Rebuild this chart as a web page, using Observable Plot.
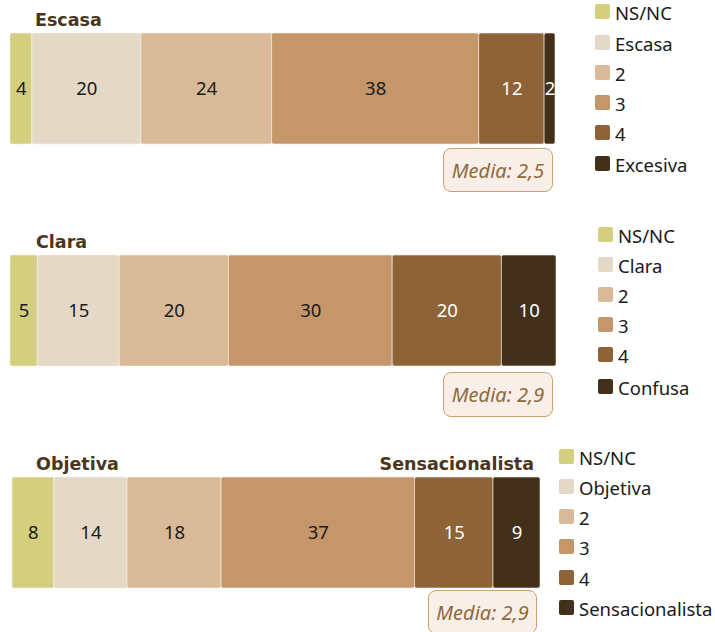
<!DOCTYPE html>
<html>
<head>
<meta charset="utf-8">
<script src="https://cdn.jsdelivr.net/npm/d3@7"></script>
<script src="https://cdn.jsdelivr.net/npm/@observablehq/plot@0.6"></script>
<style>
  body { margin: 0; background: #fff; }
  #root { position: relative; width: 715px; height: 632px; overflow: hidden; font-family: "Noto Sans", sans-serif; }
  .panel { position: absolute; left: 0; }
  .title { position: absolute; font-family: "DejaVu Sans", sans-serif; font-weight: bold; font-size: 17.5px; line-height: 1; color: #4a3520; white-space: nowrap; }
  .media { position: absolute; box-sizing: border-box; border: 1px solid #c9a36a; border-radius: 8px; background: #f8efe8;
           font-style: italic; font-size: 20px; color: #93693c; display: flex; align-items: center; justify-content: center; }
  .lrow { position: absolute; display: flex; align-items: center; white-space: nowrap; }
  .sw { width: 15px; height: 15px; border-radius: 2px; flex: none; }
  .lt { margin-left: 5px; font-size: 18.5px; color: #1a1a1a; position: relative; top: 1px; }
</style>
</head>
<body>
<div id="root"></div>
<script>
// ---- data ----
const keys = ["k0", "k1", "k2", "k3", "k4", "k5"];
const colors = ["#d3cf7e", "#e4d9c6", "#d8b998", "#c5966a", "#8e6338", "#43301b"];
const titlesLeft = ["Escasa", "Clara", "Objetiva"];
const titlesRight = ["", "", "Sensacionalista"];
const legendLabels1 = ["NS/NC", "Escasa", "2", "3", "4", "Excesiva"];
const legendLabels2 = ["NS/NC", "Clara", "2", "3", "4", "Confusa"];
const legendLabels3 = ["NS/NC", "Objetiva", "2", "3", "4", "Sensacionalista"];
const values1 = [4, 20, 24, 38, 12, 2];
const values2 = [5, 15, 20, 30, 20, 10];
const values3 = [8, 14, 18, 37, 15, 9];
const medias = ["Media: 2,5", "Media: 2,9", "Media: 2,9"];

const legends = [legendLabels1, legendLabels2, legendLabels3];
const values = [values1, values2, values3];

// ---- layout (pixels) ----
const layout = [
  {top: 0,   xr: [10, 555], titleL: 35, titleR: null, media: {l: 443, t: 148, w: 110, h: 44},
   leg: {x: 595, tops: [4, 35, 65, 95, 125, 156]}},
  {top: 222, xr: [10, 556], titleL: 36, titleR: null, media: {l: 443, t: 372, w: 110, h: 45},
   leg: {x: 598, tops: [227, 257, 287, 317, 347, 379]}},
  {top: 444, xr: [12, 540], titleL: 36, titleR: 534, media: {l: 428, t: 590, w: 109, h: 44},
   leg: {x: 559, tops: [449, 479, 509, 539, 570, 600]}}
];

const root = document.getElementById("root");

values.forEach((vals, i) => {
  const L = layout[i];
  const name = titlesLeft[i];
  const data = vals.map((v, j) => ({panel: name, key: keys[j], value: v, dark: j >= 4}));
  const total = d3.sum(vals);
  const fontText = {fontSize: 18.5, fontFamily: "Noto Sans", textAnchor: "middle"};
  const chart = Plot.plot({
    width: 560, height: 200,
    marginLeft: 0, marginRight: 0, marginTop: 0, marginBottom: 0,
    style: {background: "transparent", overflow: "visible"},
    x: {domain: [0, total], range: L.xr, axis: null},
    y: {domain: [name], range: [33, 144], padding: 0, axis: null},
    color: {domain: keys, range: colors},
    marks: [
      Plot.barX(data, Plot.stackX({x: "value", y: "panel", fill: "key", order: null, rx: 2,
        stroke: "#f6efe4", strokeOpacity: 0.6, strokeWidth: 1})),
      Plot.text(data, Plot.stackX({x: "value", y: "panel", order: null,
        text: d => d.dark ? null : String(d.value), fill: "#1a1a1a", ...fontText})),
      Plot.text(data, Plot.stackX({x: "value", y: "panel", order: null,
        text: d => d.dark ? String(d.value) : null, fill: "#ffffff", ...fontText}))
    ]
  });
  const wrap = document.createElement("div");
  wrap.className = "panel";
  wrap.style.top = L.top + "px";
  wrap.appendChild(chart);
  root.appendChild(wrap);

  // titles
  const tl = document.createElement("div");
  tl.className = "title";
  tl.textContent = titlesLeft[i];
  tl.style.left = L.titleL + "px";
  tl.style.top = (L.top + 12) + "px";
  root.appendChild(tl);
  if (titlesRight[i]) {
    const tr = document.createElement("div");
    tr.className = "title";
    tr.textContent = titlesRight[i];
    tr.style.right = (715 - L.titleR) + "px";
    tr.style.top = (L.top + 12) + "px";
    root.appendChild(tr);
  }

  // media box
  const m = document.createElement("div");
  m.className = "media";
  m.textContent = medias[i];
  Object.assign(m.style, {left: L.media.l + "px", top: L.media.t + "px", width: L.media.w + "px", height: L.media.h + "px"});
  root.appendChild(m);

  // legend
  legends[i].forEach((lab, j) => {
    const r = document.createElement("div");
    r.className = "lrow";
    r.style.left = L.leg.x + "px";
    r.style.top = L.leg.tops[j] + "px";
    r.style.height = "15px";
    const s = document.createElement("span");
    s.className = "sw";
    s.style.background = colors[j];
    const t = document.createElement("span");
    t.className = "lt";
    t.textContent = lab;
    r.appendChild(s); r.appendChild(t);
    root.appendChild(r);
  });
});
</script>
</body>
</html>
